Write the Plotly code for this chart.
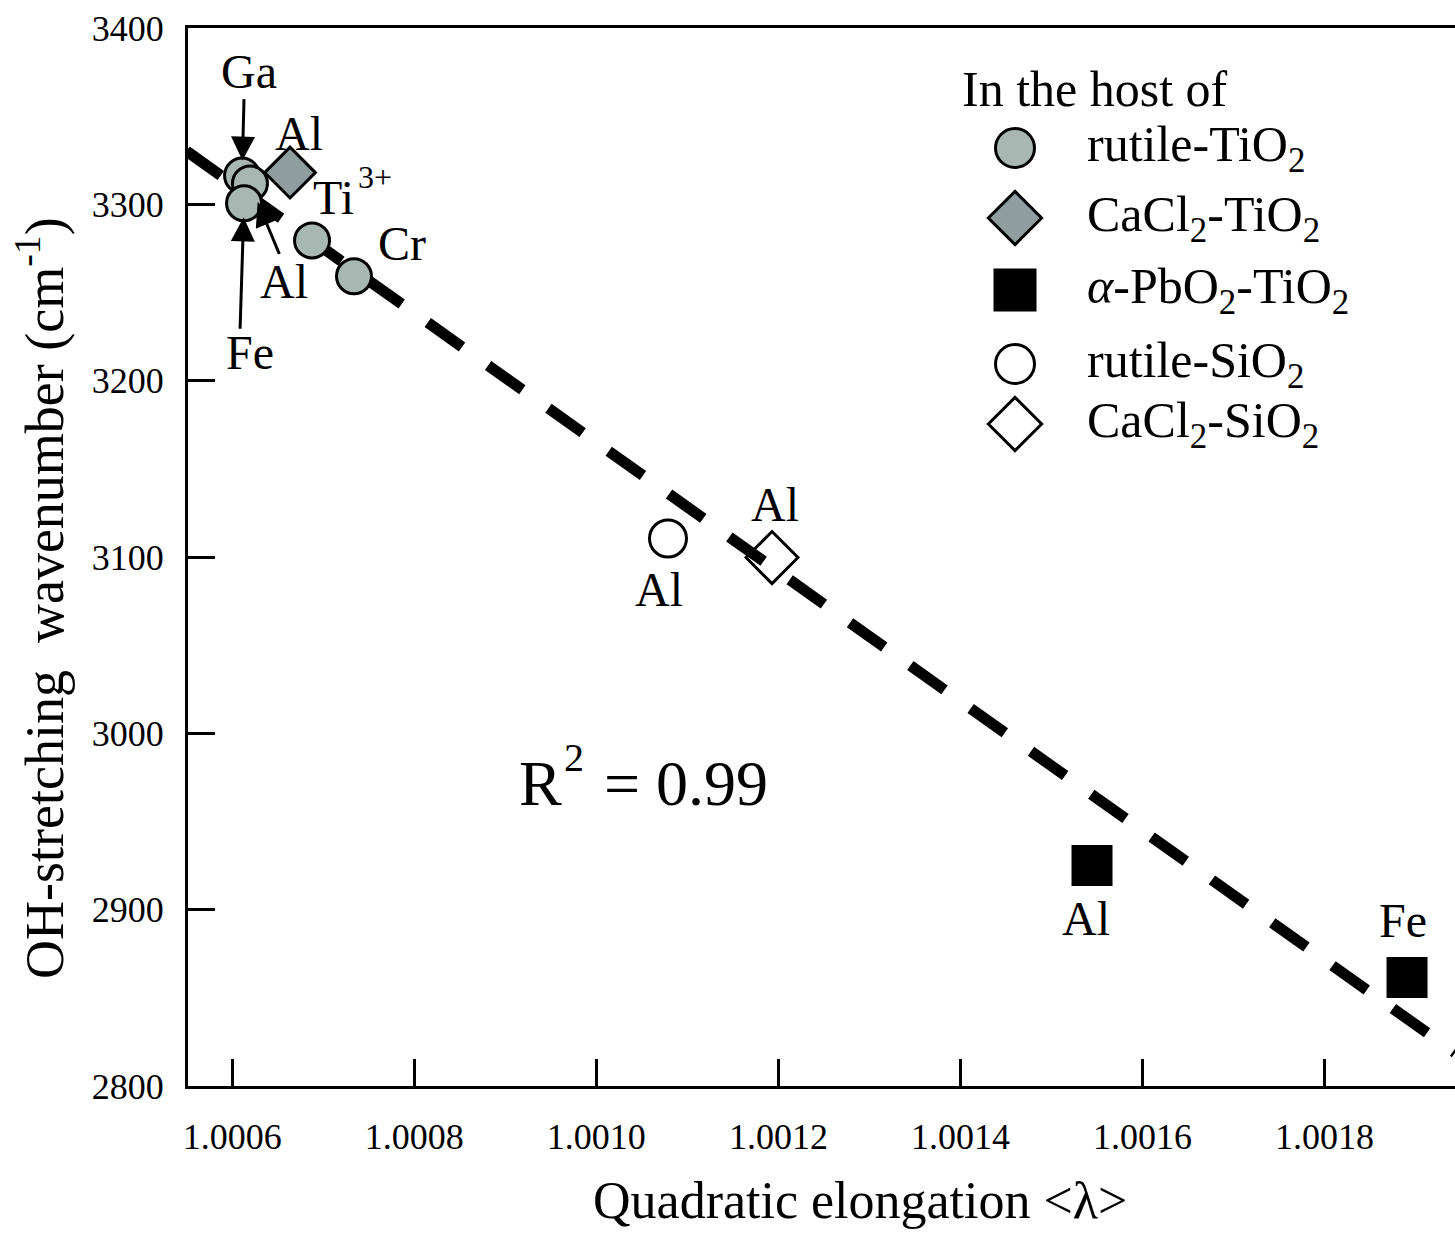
import plotly.graph_objects as go

# ---------------- data ----------------
rutile_TiO2_labels = ["Ga", "Al", "Fe", "Ti3+", "Cr"]
rutile_TiO2_x = [1.0006107, 1.0006194, 1.0006129, 1.0006876, 1.0007337]
rutile_TiO2_y = [3316.3, 3311.8, 3300.6, 3279.5, 3259.2]

CaCl2_TiO2_labels = ["Al"]
CaCl2_TiO2_x = [1.0006634]
CaCl2_TiO2_y = [3318.0]

PbO2_TiO2_labels = ["Al", "Fe"]
PbO2_TiO2_x = [1.0015446, 1.0018907]
PbO2_TiO2_y = [2925.0, 2861.6]

rutile_SiO2_labels = ["Al"]
rutile_SiO2_x = [1.0010787]
rutile_SiO2_y = [3110.5]

CaCl2_SiO2_labels = ["Al"]
CaCl2_SiO2_x = [1.0011930]
CaCl2_SiO2_y = [3099.7]

fit_x = [1.0005497, 1.0019434]
fit_y = [3330.2, 2818.9]
r_squared = "0.99"

x_ticks = [1.0006, 1.0008, 1.0010, 1.0012, 1.0014, 1.0016, 1.0018]
x_tick_labels = ["1.0006", "1.0008", "1.0010", "1.0012", "1.0014", "1.0016", "1.0018"]
y_ticks = [2800, 2900, 3000, 3100, 3200, 3300, 3400]
y_tick_labels = ["2800", "2900", "3000", "3100", "3200", "3300", "3400"]

legend_names = ["rutile-TiO<sub>2</sub>", "CaCl<sub>2</sub>-TiO<sub>2</sub>",
                "<i>α</i>-PbO<sub>2</sub>-TiO<sub>2</sub>", "rutile-SiO<sub>2</sub>",
                "CaCl<sub>2</sub>-SiO<sub>2</sub>"]

# ---------------- styling / layout ----------------
W, H = 1455, 1235
L, R, T, B = 188, 0, 28, 149
FONT = "Liberation Serif, Times New Roman, serif"
GRAY_C = "#a9b7b3"
GRAY_D = "#8f9d9f"

fig = go.Figure()

# regression line
fig.add_trace(go.Scatter(x=fit_x, y=fit_y, mode="lines",
                         line=dict(color="black", width=11, dash="42px,32px"),
                         hoverinfo="skip", showlegend=False))

def pts(x, y, symbol, fill, size, lw=3):
    fig.add_trace(go.Scatter(x=x, y=y, mode="markers", showlegend=False,
                             marker=dict(symbol=symbol, size=size, color=fill, opacity=1,
                                         line=dict(color="black", width=lw))))

pts(rutile_SiO2_x, rutile_SiO2_y, "circle", "rgba(255,255,255,0)", 37)
pts(CaCl2_SiO2_x, CaCl2_SiO2_y, "diamond", "rgba(255,255,255,0)", 40)
pts(PbO2_TiO2_x, PbO2_TiO2_y, "square", "black", 39, 2)
pts(CaCl2_TiO2_x, CaCl2_TiO2_y, "diamond", GRAY_D, 39)
pts(rutile_TiO2_x, rutile_TiO2_y, "circle", GRAY_C, 35)

annotations = []

def lab(x, y, text, dx, dy, size=48):
    annotations.append(dict(x=x, y=y, xref="x", yref="y", text=text, showarrow=False,
                            xshift=dx, yshift=dy, xanchor="center", yanchor="middle",
                            font=dict(family=FONT, size=size, color="black")))

def arrow(x, y, ax, ay, standoff):
    annotations.append(dict(x=x, y=y, xref="x", yref="y", text="", showarrow=True,
                            ax=ax, ay=ay, axref="pixel", ayref="pixel",
                            arrowhead=2, arrowsize=1.6, arrowwidth=3,
                            arrowcolor="black", standoff=standoff,
                            font=dict(family=FONT, size=20, color="black")))

# rutile-TiO2 labels
lab(rutile_TiO2_x[0], rutile_TiO2_y[0], "Ga", 7, 104)
arrow(rutile_TiO2_x[0], rutile_TiO2_y[0], 2, -78, 15)
lab(rutile_TiO2_x[1], rutile_TiO2_y[1], "Al", 34, -98)
arrow(rutile_TiO2_x[1], rutile_TiO2_y[1], 30, 72, 20)
lab(rutile_TiO2_x[2], rutile_TiO2_y[2], "Fe", 6, -149)
arrow(rutile_TiO2_x[2], rutile_TiO2_y[2], -4, 127, 14)
lab(rutile_TiO2_x[3], rutile_TiO2_y[3], "Ti", 21, 43)
lab(rutile_TiO2_x[3], rutile_TiO2_y[3], "3+", 63, 63, size=32)
lab(rutile_TiO2_x[4], rutile_TiO2_y[4], "Cr", 48, 33)
lab(CaCl2_TiO2_x[0], CaCl2_TiO2_y[0], CaCl2_TiO2_labels[0], 9, 39)
lab(rutile_SiO2_x[0], rutile_SiO2_y[0], rutile_SiO2_labels[0], -9, -51)
lab(CaCl2_SiO2_x[0], CaCl2_SiO2_y[0], CaCl2_SiO2_labels[0], 3, 53)
lab(PbO2_TiO2_x[0], PbO2_TiO2_y[0], PbO2_TiO2_labels[0], -6, -53)
lab(PbO2_TiO2_x[1], PbO2_TiO2_y[1], PbO2_TiO2_labels[1], -4, 57)

# free text placed in figure pixel positions, converted to paper coordinates
PW, PH = W - R - L, H - B - T

def ptxt(x, y, text, size, xanchor="center", angle=0):
    annotations.append(dict(x=(x - L) / PW, y=(H - B - y) / PH, xref="paper", yref="paper",
                            text=text, showarrow=False,
                            xanchor=xanchor, yanchor="middle", textangle=angle,
                            font=dict(family=FONT, size=size, color="black")))

# R^2 text
ptxt(540, 783, "R", 64)
ptxt(574, 758, "2", 40)
ptxt(602, 783, "= " + r_squared, 64, xanchor="left")

# axis titles
ptxt(860, 1200, "Quadratic elongation &lt;λ&gt;", 52)
ptxt(40, 598, "OH-stretching  wavenumber (cm<sup>-1</sup>)", 54, angle=-90)

# legend
leg_y = [148, 218, 290, 364, 424]
ptxt(960, 89, "In the host of", 50, xanchor="left")
for yy, name in zip(leg_y, legend_names):
    ptxt(1085, yy, name, 50, xanchor="left")

fig.add_trace(go.Scatter(
    x=[1015] * 5, y=leg_y, xaxis="x2", yaxis="y2", mode="markers", showlegend=False,
    hoverinfo="skip",
    marker=dict(symbol=["circle", "diamond", "square", "circle", "diamond"],
                size=[39, 41, 40, 39, 41], opacity=1,
                color=[GRAY_C, GRAY_D, "black", "white", "white"],
                line=dict(color="black", width=3))))

x0 = 1.0006 - (232.3 - L) / 182.03 * 0.0002
x1 = 1.0006 + (W - R - 232.3) / 182.03 * 0.0002

fig.update_layout(
    width=W, height=H, margin=dict(l=L, r=R, t=T, b=B),
    paper_bgcolor="white", plot_bgcolor="white", showlegend=False,
    font=dict(family=FONT, color="black"),
    annotations=annotations,
    xaxis=dict(range=[x0, x1], tickvals=x_ticks, ticktext=x_tick_labels,
               ticks="inside", ticklen=27, tickwidth=3, tickcolor="black",
               showline=True, linewidth=3, linecolor="black", mirror=True,
               showgrid=False, zeroline=False, ticklabelstandoff=17,
               tickfont=dict(family=FONT, size=36, color="black")),
    yaxis=dict(range=[2800, 3400], tickvals=y_ticks, ticktext=y_tick_labels,
               ticks="inside", ticklen=27, tickwidth=3, tickcolor="black",
               showline=True, linewidth=3, linecolor="black", mirror=False,
               showgrid=False, zeroline=False, ticklabelstandoff=14,
               tickfont=dict(family=FONT, size=36, color="black")),
    xaxis2=dict(range=[L, W - R], overlaying="x", anchor="y2", visible=False,
                fixedrange=True),
    yaxis2=dict(range=[H - B, T], overlaying="y", anchor="x2", visible=False,
                fixedrange=True),
)

fig.write_html("out.html")
